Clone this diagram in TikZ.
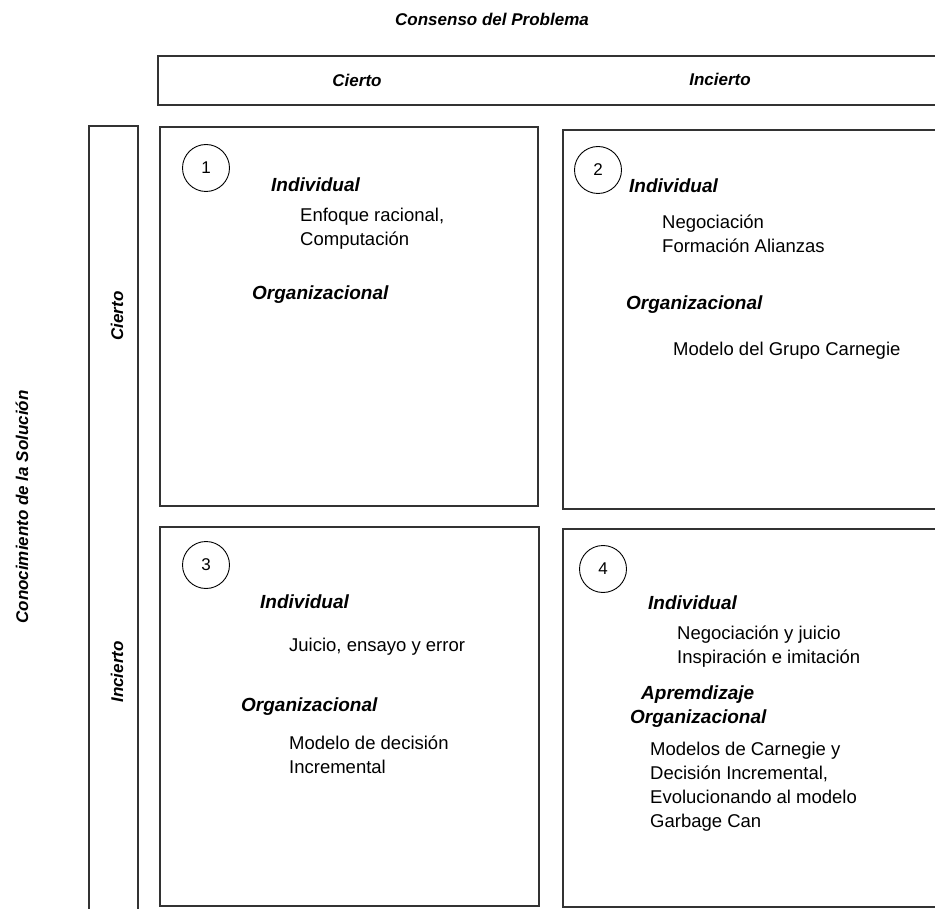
\documentclass[tikz,border=0pt]{standalone}
\usepackage{fontspec}
\setmainfont{Liberation Sans}
\begin{document}
\begin{tikzpicture}[x=1pt,y=-1pt,
  frame/.style={draw=black!80,line width=1.4pt},
  badge/.style={draw=black,line width=0.9pt,circle,minimum size=47pt,inner sep=0pt,font=\fontsize{17}{20}\selectfont},
  head/.style={inner sep=0pt,font=\fontsize{17}{20}\selectfont\bfseries\itshape},
  sub/.style={inner sep=0pt,anchor=base west,font=\fontsize{19}{24}\selectfont\bfseries\itshape,align=left},
  body/.style={inner sep=0pt,anchor=base west,font=\fontsize{18.5}{24}\selectfont,align=left}]
\useasboundingbox (0,0) rectangle (935,909);
\clip (0,0) rectangle (935,909);
\fill[white] (0,0) rectangle (935,909);

% axis titles
\node[head] (top) at (492,19) {Consenso del Problema};
\node[head,rotate=90] (side) at (22,507) {Conocimiento de la Solución};

% column header bar
\draw[frame] (158,56) rectangle (960,105);
\node[head] (colA) at (357,80) {Cierto};
\node[head] (colB) at (720,79) {Incierto};

% row header bar
\draw[frame] (89,126) rectangle (138,940);
\node[head,rotate=90] (rowA) at (117,316) {Cierto};
\node[head,rotate=90] (rowB) at (117,672) {Incierto};

% quadrant frames
\draw[frame] (160,127) rectangle (538,506);
\draw[frame] (563,130) rectangle (960,509);
\draw[frame] (160,527) rectangle (539,906);
\draw[frame] (563,529) rectangle (960,907);

% quadrant 1 (multi-line nodes are placed by the baseline of their last line)
\node[badge] (n1) at (206,168) {1};
\node[sub] (q1i) at (271,191.5) {Individual};
\node[body] (q1a) at (300,245.5) {Enfoque racional,\\Computación};
\node[sub] (q1o) at (252,299.5) {Organizacional};

% quadrant 2
\node[badge] (n2) at (598,170) {2};
\node[sub] (q2i) at (629,192.5) {Individual};
\node[body] (q2a) at (662,252.5) {Negociación\\Formación Alianzas};
\node[sub] (q2o) at (626,309.5) {Organizacional};
\node[body] (q2b) at (673,355.5) {Modelo del Grupo Carnegie};

% quadrant 3
\node[badge] (n3) at (206,565) {3};
\node[sub] (q3i) at (260,608.5) {Individual};
\node[body] (q3a) at (289,651.5) {Juicio, ensayo y error};
\node[sub] (q3o) at (241,711.5) {Organizacional};
\node[body] (q3b) at (289,773.5) {Modelo de decisión\\Incremental};

% quadrant 4
\node[badge] (n4) at (603,569) {4};
\node[sub] (q4i) at (648,609.5) {Individual};
\node[body] (q4a) at (677,663.5) {Negociación y juicio\\Inspiración e imitación};
\node[sub] (q4o) at (630,723.5) {\hspace*{11pt}Apremdizaje\\Organizacional};
\node[body] (q4b) at (650,827.5) {Modelos de Carnegie y\\Decisión Incremental,\\Evolucionando al modelo\\Garbage Can};
\end{tikzpicture}
\end{document}
